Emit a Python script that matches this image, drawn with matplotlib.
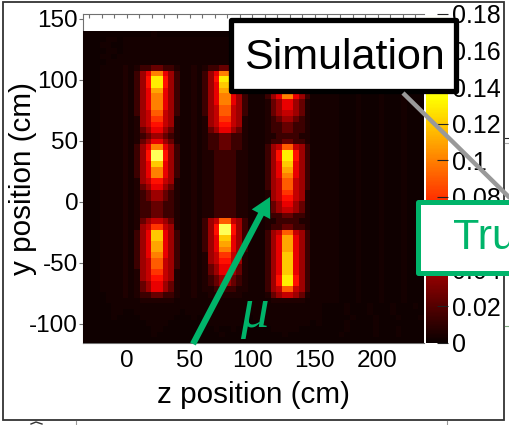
"""Simulated dose map (z, y) with colour scale and slide callouts."""
import numpy as np
import matplotlib
matplotlib.use("Agg")
import matplotlib.pyplot as plt
from matplotlib.patches import Rectangle

plt.rcParams["font.family"] = ["Liberation Sans", "DejaVu Sans"]
plt.rcParams["axes.unicode_minus"] = False

OUT = "out.png"
W, H = 510, 425

# cell levels: one character per cell, spaces only group the columns
LEVELS = dict(zip("0123456789abcdefg",
                  [0.0015, 0.003, 0.006, 0.014, 0.025, 0.04, 0.05, 0.06, 0.07,
                   0.08, 0.09, 0.10, 0.11, 0.12, 0.13, 0.14, 0.15]))
N_COLS = 60
REST = "1111000100010001000"
ROWS = [
    "00000000 0000100000 00 0000000100 0 0010000000 0000100000100001000",
    "00001101 1111111111 11 1111111111 1 1111111111 1000010001000100010",
    "00011001 1111111111 11 1111111111 1 1111111111 1100010001000100000",
    "00001101 1111111111 11 1111111111 1 1111111111 1000001000100010001",
    "00011011 1111111111 11 1111111111 1 1111111111 1100010000100000000",
    "00001111 1111111111 11 1111111111 1 1111111111 1000010001000100010",
    "00011112 1233443321 12 1233443321 1 1233443321 " + REST,
    "00011112 1357bb7531 12 1357bb7531 1 1357bb7531 " + REST,
    "00011112 1358ee8531 12 1358ee8531 1 1357dd7531 " + REST,
    "00011112 1358ee8531 12 1357dd7531 1 1357dd7531 " + REST,
    "00011112 1357cc7531 12 1357cc7531 1 1357cc7531 " + REST,
    "00011112 1357bb7531 12 1357bb7531 1 1357bb7531 " + REST,
    "00011112 1357bb7531 12 1357bb7531 1 1245775421 " + REST,
    "00011112 1357bb7531 12 1356aa6531 1 1245775421 " + REST,
    "00011112 1356aa6531 12 1356aa6531 1 1245665421 " + REST,
    "00011112 1256996521 12 1256996521 1 1234554321 " + REST,
    "00011112 1256886521 12 1256886521 1 1233443321 " + REST,
    "00011112 1245775421 12 1245775421 1 1233443321 " + REST,
    "00011112 1234554321 12 1233443321 1 1223333221 " + REST,
    "00011112 1245775421 12 1233443321 1 1233443321 " + REST,
    "00011112 1357bb7531 12 1233443321 1 1356aa6531 " + REST,
    "00011112 1358gg8531 12 1223333221 1 1358ee8531 " + REST,
    "00011112 1358gg8531 12 1223333221 1 1358ee8531 " + REST,
    "00011112 1357dd7531 12 1223333221 1 1357dd7531 " + REST,
    "00011112 1357bb7531 12 1223333221 1 1357cc7531 " + REST,
    "00011112 1357bb7531 12 1223333221 1 1357bb7531 " + REST,
    "00011112 1256886521 12 1223333221 1 1356aa6531 " + REST,
    "00011112 1245775421 12 1223333221 1 1356aa6531 " + REST,
    "00011112 1234554321 12 1223333221 1 1256996521 " + REST,
    "00011112 1234554321 12 1223333221 1 1256886521 " + REST,
    "00011112 1233443321 12 1223333221 1 1245775421 " + REST,
    "00011112 1233443321 12 1223333221 1 1245665421 " + REST,
    "00011112 1233443321 12 1223333221 1 1233443321 " + REST,
    "00011112 1245665421 12 1356aa6531 1 1223333221 " + REST,
    "00011112 1256996521 12 1358gg8531 1 1233443321 " + REST,
    "00011112 1357dd7531 12 1358gg8531 1 1356aa6531 " + REST,
    "00011112 1357dd7531 12 1357dd7531 1 1357cc7531 " + REST,
    "00011112 1357cc7531 12 1357cc7531 1 1357cc7531 " + REST,
    "00011112 1357cc7531 12 1357bb7531 1 1357cc7531 " + REST,
    "00011112 1357bb7531 12 1256996521 1 1357dd7531 " + REST,
    "00011112 1356aa6531 12 1256886521 1 1357dd7531 " + REST,
    "00011112 1356aa6531 12 1245775421 1 1357dd7531 " + REST,
    "00011112 1256996521 12 1245775421 1 1357dd7531 " + REST,
    "00011112 1256886521 12 1234554321 1 1358ee8531 " + REST,
    "00011112 1245775421 12 1234554321 1 1358ee8531 " + REST,
    "00011112 1245775421 12 1223333221 1 1356aa6531 " + REST,
    "00001112 1233443321 12 1122222211 1 1245665421 " + REST,
    "00001111 1122222211 11 1111111111 1 1122222211 " + REST,
    "00000111 1111111111 11 1111111111 1 1111111111 1000010001000100010",
    "00000110 0111111110 11 1111111111 1 1111111111 1000010001000100000",
    "00000100 0011111100 01 0111111110 1 1111111111 1000001000100010001",
    "00000000 0001111000 00 0011111100 0 1111111110 1000010000100000000",
    "00000000 0000110000 00 0001001000 0 0011111000 0000010000100010000",
    "00000000 0000100000 00 0000100000 0 0000100000 0000100000100010000",
    "00000000 0000000000 00 0000000000 0 0000000000 0000000000000000000",
]

Z_TICKS = [0, 50, 100, 150, 200]
Y_TICKS = [-100, -50, 0, 50, 100, 150]
CBAR_TICKS = [0, 0.02, 0.04, 0.06, 0.08, 0.1, 0.12, 0.14, 0.16, 0.18]
CBAR_LABELS = ["0", "0.02", "0.04", "0.06", "0.08", "0.1", "0.12", "0.14", "0.16", "0.18"]

GREEN = "#00b46a"


def px_axes(fig, left, top, right, bottom, **kw):
    return fig.add_axes([left / W, 1 - bottom / H, (right - left) / W, (bottom - top) / H], **kw)


def main():
    cells = np.array([[LEVELS[c] for c in r.replace(" ", "").ljust(N_COLS, "0")[:N_COLS]]
                      for r in ROWS])

    fig = plt.figure(figsize=(W / 100, H / 100), dpi=100)

    ax = px_axes(fig, 83, 14, 424, 343)
    im = ax.imshow(cells, cmap="hot", vmin=0, vmax=0.18, aspect="auto",
                   interpolation="nearest", extent=[-35, 237, -116, 140], zorder=3)
    ax.set_xlim(-35, 237)
    ax.set_ylim(-116, 154)
    for s in ax.spines.values():
        s.set_color("#707070")
        s.set_linewidth(0.8)
    ax.spines["right"].set_visible(False)
    ax.set_xticks(Z_TICKS)
    ax.set_yticks(Y_TICKS)
    ax.tick_params(axis="x", labelsize=17.5, length=0, pad=5)
    ax.tick_params(axis="y", labelsize=17.5, length=3, color="#707070", direction="out", pad=0.5)
    ax.set_xlabel("z position (cm)", fontsize=21.3, labelpad=0)
    ax.xaxis.set_label_coords(0.5, -0.115)
    ax.set_ylabel("y position (cm)", fontsize=21.3)
    ax.yaxis.set_label_coords(-0.135, 0.5)

    # tick marks along the top edge
    top = ax.secondary_xaxis("top")
    top.set_xticks(np.arange(-30, 240, 10), labels=[])
    top.tick_params(axis="x", direction="in", length=3, color="#707070", width=0.8)
    top.spines["top"].set_visible(False)

    cax = px_axes(fig, 426, 14, 448, 343)
    cb = fig.colorbar(im, cax=cax)
    cb.set_ticks(CBAR_TICKS, labels=CBAR_LABELS)
    cb.ax.tick_params(direction="in", length=8, width=0.8, labelsize=18, pad=3, color="#222222")
    cb.outline.set_visible(False)

    # slide callouts on top of the plot, in pixel coordinates
    ov = fig.add_axes([0, 0, 1, 1], zorder=10)
    ov.set_xlim(0, W)
    ov.set_ylim(H, 0)
    ov.axis("off")
    ov.patch.set_alpha(0)

    ov.add_patch(Rectangle((3, 2), 501, 418, fill=False, ec="#333333", lw=1.3))
    ov.plot([505, 510], [138, 138], color="#222222", lw=0.8)
    ov.plot([505, 510], [143, 143], color="#aaaaaa", lw=0.8)
    ov.plot([505, 510], [326, 326], color="#7fa87f", lw=0.8)
    ov.plot([76, 76], [421, 425], color="#999999", lw=0.8)
    ov.plot([447, 447], [421, 425], color="#999999", lw=0.8)
    ov.plot([31, 36, 42], [424, 422, 424], color="#333333", lw=1.0)

    ov.plot([403, 512], [93, 200], color="#999999", lw=3.2, solid_capstyle="butt")
    ov.add_patch(Rectangle((231.5, 19.5), 225, 71, fc="white", ec="black", lw=3.8, joinstyle="round"))
    ov.text(344.5, 58, "Simulation", fontsize=31, ha="center", va="center", color="black")

    ov.add_patch(Rectangle((418.5, 201.5), 110, 71, fc="white", ec=GREEN, lw=3.6, joinstyle="round"))
    ov.text(453, 238, "Tru", fontsize=31, ha="left", va="center", color=GREEN)

    ov.annotate("", xy=(270, 197), xytext=(193, 344),
                arrowprops=dict(width=4.5, headwidth=15, headlength=14, fc=GREEN, ec="none",
                                shrink=0))
    ov.text(254, 313, "\u03bc", fontsize=41, ha="center", va="center", color=GREEN,
            family=["Liberation Serif", "DejaVu Serif"], style="italic")

    fig.savefig(OUT, dpi=100)
    print("saved", OUT)


if __name__ == "__main__":
    main()
